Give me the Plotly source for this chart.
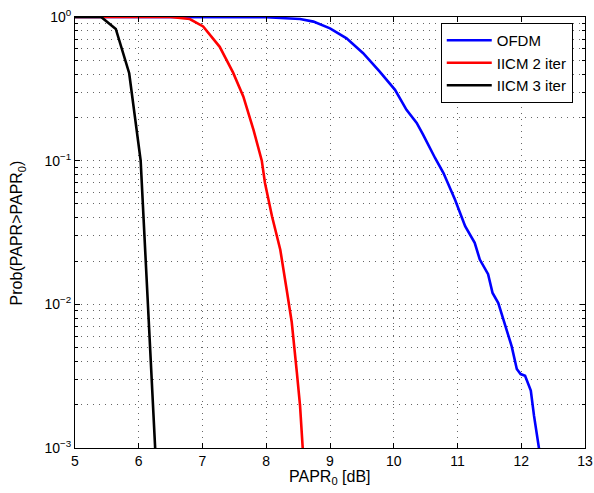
import plotly.graph_objects as go

# ---- data ----
ofdm_x = [5.0, 8.0, 8.53, 8.74, 9.0, 9.26, 9.52, 9.78, 10.02, 10.20, 10.36, 10.46, 10.65,
          10.78, 10.96, 11.12, 11.27, 11.35, 11.48, 11.55, 11.64, 11.75, 11.85, 11.93,
          11.99, 12.06, 12.15, 12.20, 12.285]
ofdm_y = [1.0, 0.995, 0.968, 0.929, 0.834, 0.71, 0.56, 0.417, 0.311, 0.226, 0.183, 0.152, 0.104,
          0.082, 0.0536, 0.035, 0.0268, 0.0205, 0.0162, 0.012, 0.0102, 0.0071, 0.0051, 0.00355,
          0.00327, 0.00318, 0.00251, 0.00168, 0.00095]

iicm2_x = [5.0, 6.5, 6.8, 7.01, 7.27, 7.48, 7.64, 7.80, 7.93, 7.98, 8.09, 8.22, 8.32, 8.40,
           8.48, 8.53, 8.575]
iicm2_y = [1.0, 1.0, 0.968, 0.86, 0.62, 0.41, 0.28, 0.164, 0.10, 0.07, 0.041, 0.024, 0.0127,
           0.0075, 0.00336, 0.00197, 0.00095]

iicm3_x = [5.0, 5.41, 5.64, 5.85, 6.03, 6.145, 6.26]
iicm3_y = [1.0, 1.0, 0.826, 0.406, 0.100, 0.010, 0.00095]

names = ["OFDM", "IICM 2 iter", "IICM 3 iter"]
colors = ["#0000ff", "#ff0000", "#000000"]

x_ticks = [5, 6, 7, 8, 9, 10, 11, 12, 13]
y_ticks = [1e-3, 1e-2, 1e-1, 1]
y_tick_text = ["10<sup>−3</sup>", "10<sup>−2</sup>", "10<sup>−1</sup>", "10<sup>0</sup>"]
y_minor = [m * 10.0 ** e for e in (-3, -2, -1) for m in range(2, 10)]

x_title = "PAPR<sub>0</sub> [dB]"
y_title = "Prob(PAPR>PAPR<sub>0</sub>)"

FONT = "Liberation Sans, Arial, Helvetica, sans-serif"
GRIDC = "rgba(0,0,0,0.6)"
DASH = "1px,5px"

fig = go.Figure()
for xs, ys, n, c in zip([ofdm_x, iicm2_x, iicm3_x], [ofdm_y, iicm2_y, iicm3_y], names, colors):
    fig.add_trace(go.Scatter(x=xs, y=ys, mode="lines", name=n,
                             line=dict(color=c, width=2.6)))

fig.update_layout(
    width=594, height=493,
    margin=dict(l=75, r=9, t=17, b=45, autoexpand=False),
    paper_bgcolor="white", plot_bgcolor="white",
    font=dict(family=FONT, size=14, color="black"),
    showlegend=True,
    legend=dict(x=0.976, y=0.986, xanchor="right", yanchor="top",
                bgcolor="white", bordercolor="black", borderwidth=1,
                font=dict(family=FONT, size=15), tracegroupgap=0,
                itemwidth=45),
    xaxis=dict(range=[5, 13], tickvals=x_ticks, ticks="inside", ticklen=5,
               tickcolor="black", showline=True, linecolor="black", linewidth=1,
               mirror="ticks", zeroline=False, automargin=False,
               ticklabeloverflow="allow",
               showgrid=True, gridcolor=GRIDC, griddash=DASH, gridwidth=1),
    yaxis=dict(type="log", range=[-3, 0], tickvals=y_ticks, ticktext=y_tick_text,
               ticks="inside", ticklen=5, tickcolor="black",
               showline=True, linecolor="black", linewidth=1, mirror="ticks",
               zeroline=False, automargin=False, ticklabeloverflow="allow",
               showgrid=True, gridcolor=GRIDC, griddash=DASH, gridwidth=1,
               minor=dict(tickvals=y_minor, ticks="inside", ticklen=3, tickcolor="black",
                          showgrid=True, gridcolor=GRIDC, griddash=DASH, gridwidth=1)),
    annotations=[
        dict(text=x_title, xref="paper", yref="paper", x=0.5, y=-0.069,
             xanchor="center", yanchor="middle", showarrow=False,
             font=dict(family=FONT, size=16)),
        dict(text=y_title, xref="paper", yref="paper", x=-0.112, y=0.5,
             xanchor="center", yanchor="middle", showarrow=False, textangle=-90,
             font=dict(family=FONT, size=16)),
    ],
)

# remove the browser's default 8px body margin so the figure fills the window exactly
fig.write_html("out.html",
               config={"displayModeBar": False},
               post_script="document.body.style.margin='0';document.body.style.overflow='hidden';")
